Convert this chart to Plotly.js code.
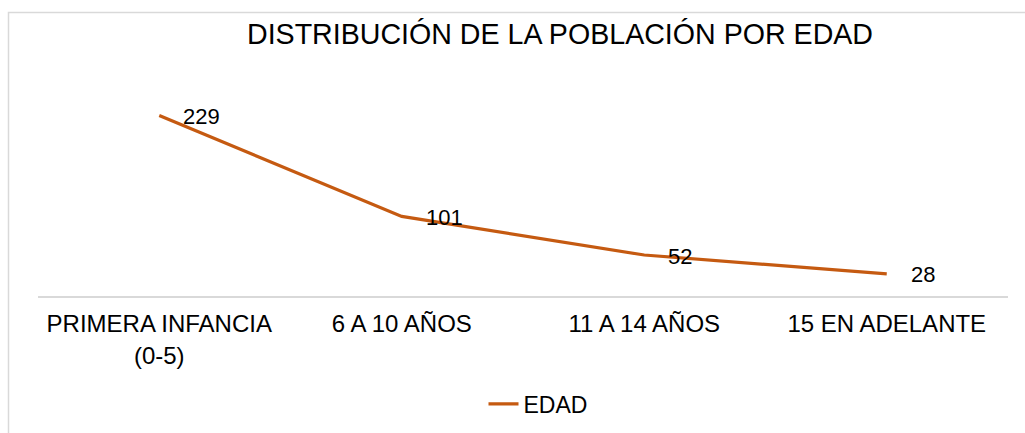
<!DOCTYPE html>
<html>
<head>
<meta charset="utf-8">
<script src="https://cdn.plot.ly/plotly-3.0.1.min.js"></script>
<style>
  html, body { margin: 0; padding: 0; background: #fff; overflow: hidden; }
  #chart { width: 1025px; height: 433px; }
</style>
</head>
<body>
<div id="chart"></div>
<script>
const categories = ["PRIMERA INFANCIA<br>(0-5)", "6 A 10 AÑOS", "11 A 14 AÑOS", "15 EN ADELANTE"];
const edadValues = [229, 101, 52, 28];
const seriesName = "EDAD";
const chartTitle = "DISTRIBUCIÓN DE LA POBLACIÓN POR EDAD";

const lineColor = "#C55A11";
const fontFam = "Liberation Sans, Arial, sans-serif";

const trace = {
  type: "scatter",
  mode: "lines",
  x: categories,
  y: edadValues,
  name: seriesName,
  line: { color: lineColor, width: 3.2 },
  hoverinfo: "x+y"
};

const annotations = categories.map((c, i) => ({
  x: c, y: edadValues[i], xref: "x", yref: "y",
  text: String(edadValues[i]),
  showarrow: false, xanchor: "left", yanchor: "middle",
  xshift: 22, yshift: -1,
  font: { family: fontFam, size: 22, color: "#000" }
}));

// outer chart frame: only left & top edges are visible in the window
const frameStyle = { color: "#d9d9d9", width: 1.5 };
const fx = (8.5 - 38) / 970, fy = (296 - 12.5) / 197;
const frame = [
  { type: "path", xref: "paper", yref: "paper", layer: "above",
    path: "M " + fx + "," + (-0.75) + " L " + fx + "," + fy + " L 1.02," + fy,
    line: frameStyle }
];

const layout = {
  width: 1025, height: 433,
  margin: { l: 38, r: 17, t: 99, b: 137 },
  paper_bgcolor: "#fff",
  plot_bgcolor: "rgba(0,0,0,0)",
  title: {
    text: chartTitle,
    font: { family: fontFam, size: 28.6, color: "#000" },
    x: 560 / 1025, xref: "container", xanchor: "center",
    y: 1 - 34 / 433, yref: "container", yanchor: "middle"
  },
  xaxis: {
    type: "category",
    range: [-0.5, 3.5],
    showgrid: false, zeroline: false,
    showline: true, linecolor: "#d9d9d9", linewidth: 1.5,
    ticks: "", ticklabelstandoff: 6,
    tickfont: { family: fontFam, size: 24, color: "#000" },
    automargin: false,
    fixedrange: true
  },
  yaxis: {
    range: [0, 250], visible: false, fixedrange: true, automargin: false
  },
  showlegend: true,
  legend: {
    orientation: "h",
    xref: "container", x: 538 / 1025, xanchor: "center",
    yref: "container", y: (433 - 404) / 433, yanchor: "middle",
    font: { family: fontFam, size: 23, color: "#000" },
    bgcolor: "rgba(0,0,0,0)"
  },
  shapes: frame,
  annotations: annotations
};

Plotly.newPlot("chart", [trace], layout, { displayModeBar: false, staticPlot: true });
</script>
</body>
</html>
